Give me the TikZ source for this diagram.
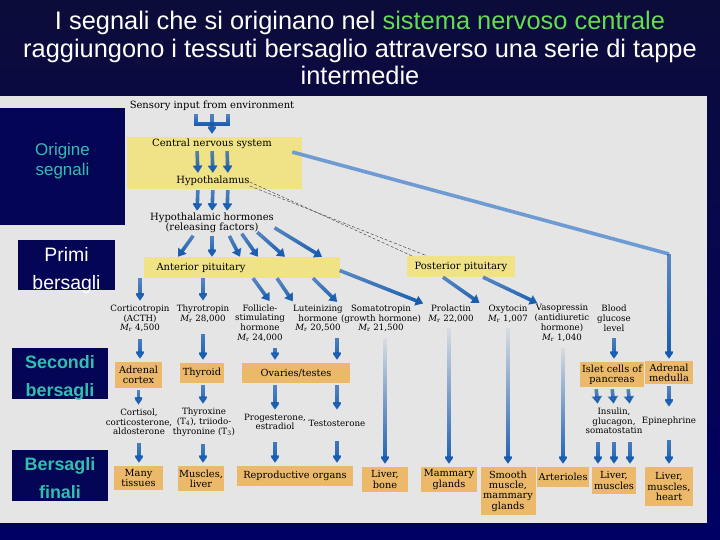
\documentclass[tikz,border=0pt]{standalone}
\usepackage{fontspec}
\setmainfont{DejaVu Serif}
\newfontfamily\sansfig{Liberation Sans}
\usetikzlibrary{arrows.meta,fadings}
\definecolor{navytop}{RGB}{12,12,58}
\definecolor{navybot}{RGB}{0,0,100}
\definecolor{navybox}{RGB}{5,5,85}
\definecolor{tealtxt}{RGB}{50,190,175}
\definecolor{greentxt}{RGB}{100,220,80}
\definecolor{panel}{RGB}{229,229,229}
\definecolor{bandyel}{RGB}{240,226,135}
\definecolor{organbox}{RGB}{235,185,105}
\definecolor{arrblue}{RGB}{20,90,175}
\definecolor{lineblue}{RGB}{110,155,210}
\tikzfading[name=halffade, top color=transparent!35, bottom color=transparent!0]
\tikzfading[name=longfade, top color=transparent!100, bottom color=transparent!0]

\begin{document}
\begin{tikzpicture}[x=1bp,y=-1bp]
		\tikzstyle{lbl}=[align=center,inner sep=0pt,font=\fontsize{8.7}{9.8}\selectfont]
		\tikzstyle{toplbl}=[align=center,inner sep=0pt,font=\fontsize{10}{10.3}\selectfont]
		\tikzstyle{band}=[fill=bandyel,inner sep=0pt,font=\fontsize{10}{10}\selectfont]
		\tikzstyle{organ}=[fill=organbox,align=center,inner sep=1.5bp,font=\fontsize{9.8}{10.3}\selectfont]
		\tikzstyle{sidebox}=[fill=navybox,text=tealtxt,align=center,inner sep=0pt]
		\tikzstyle{arr}=[arrblue,line width=3.6bp,-{Triangle[width=10bp,length=7.5bp]},path fading=halffade]
		\tikzstyle{farr}=[arr,path fading=longfade]
		\tikzstyle{pipe}=[arrblue,line width=3.6bp,path fading=halffade]
		\useasboundingbox (0,0) rectangle (720,540);
		\shade[top color=navytop,bottom color=navybot] (0,0) rectangle (720,540);
		\fill[panel] (0,96) rectangle (707,523);
		\node[align=center,text=white,font=\sansfig\fontsize{25.5}{28}\selectfont] (title) at (360,48)
			{I segnali che si originano nel \textcolor{greentxt}{sistema nervoso centrale}\\raggiungono i tessuti bersaglio attraverso una serie di tappe\\intermedie};
		\node[sidebox,minimum width=125bp,minimum height=117bp,text depth=14bp,font=\sansfig\fontsize{17}{20}\selectfont] (orig) at (62.5,166.5) {Origine\\segnali};
		\node[sidebox,text=white,minimum width=97bp,minimum height=50bp,text height=54bp,inner ysep=-4.5bp,font=\sansfig\fontsize{19.5}{29}\selectfont] (primi) at (66.5,265) {Primi\\bersagli};
		\node[sidebox,minimum width=96bp,minimum height=51bp,text height=49bp,inner ysep=-1.5bp,font=\sansfig\bfseries\fontsize{18}{28}\selectfont] (second) at (60,373.5) {Secondi\\bersagli};
		\node[sidebox,minimum width=96bp,minimum height=51bp,text height=46bp,font=\sansfig\bfseries\fontsize{18}{28}\selectfont] (final) at (60,475.5) {Bersagli\\finali};

		\node[band,minimum width=175bp,minimum height=52bp] (cnsband) at (214.5,163) {};
		\node[toplbl] (sens) at (212,106) {Sensory input from environment};
		\node[toplbl] (cns) at (212,144) {Central nervous system};
		\node[toplbl] (hyp) at (213,181) {Hypothalamus};
		\node[toplbl] (hh) at (212,223) {Hypothalamic hormones\\(releasing factors)};
		\node[band,minimum height=21bp,text width=170bp,inner xsep=13bp,align=left] (ap) at (241.5,267.5) {Anterior pituitary};
		\node[band,minimum height=21bp,minimum width=108bp] (pp) at (461,266.5) {Posterior pituitary};

		\node[lbl] (acth) at (140,318.5) {Corticotropin\\(ACTH)\\{\itshape M}\textsubscript{r} 4,500};
		\node[lbl] (tsh) at (203,313.5) {Thyrotropin\\{\itshape M}\textsubscript{r} 28,000};
		\node[lbl] (fsh) at (260,323) {Follicle-\\stimulating\\hormone\\{\itshape M}\textsubscript{r} 24,000};
		\node[lbl] (lh) at (318,318.5) {Luteinizing\\hormone\\{\itshape M}\textsubscript{r} 20,500};
		\node[lbl] (gh) at (381,318.5) {Somatotropin\\(growth hormone)\\{\itshape M}\textsubscript{r} 21,500};
		\node[lbl] (prl) at (451,313.5) {Prolactin\\{\itshape M}\textsubscript{r} 22,000};
		\node[lbl] (oxt) at (508,313.5) {Oxytocin\\{\itshape M}\textsubscript{r} 1,007};
		\node[lbl] (adh) at (562,323) {Vasopressin\\(antidiuretic\\hormone)\\{\itshape M}\textsubscript{r} 1,040};
		\node[lbl] (glu) at (614,318.5) {Blood\\glucose\\level};

		\node[organ,minimum width=47bp,minimum height=26bp] (adrcx) at (138.5,375) {Adrenal\\cortex};
		\node[organ,minimum width=44bp,minimum height=20bp] (thy) at (202,373) {Thyroid};
		\node[organ,minimum width=108bp,minimum height=20bp] (ovt) at (296,373) {Ovaries/testes};
		\node[organ,minimum width=64bp,minimum height=25bp] (islet) at (612,374.5) {Islet cells of\\pancreas};
		\node[organ,minimum width=48bp,minimum height=23bp] (admed) at (669,372.5) {Adrenal\\medulla};

		\node[lbl] (cort) at (139,422) {Cortisol,\\corticosterone,\\aldosterone};
		\node[lbl] (t4) at (204,422) {Thyroxine\\(T\textsubscript{4}), triiodo-\\thyronine (T\textsubscript{3})};
		\node[lbl] (prog) at (275,422) {Progesterone,\\estradiol};
		\node[lbl] (testo) at (337,423) {Testosterone};
		\node[lbl] (ins) at (614,421) {Insulin,\\glucagon,\\somatostatin};
		\node[lbl] (epi) at (669,421) {Epinephrine};

		\node[organ,minimum width=49bp,minimum height=24bp] (many) at (138.5,478) {Many\\tissues};
		\node[organ,minimum width=46bp,minimum height=25bp] (musliv) at (201,478.5) {Muscles,\\liver};
		\node[organ,minimum width=116bp,minimum height=20bp] (repro) at (295,476) {Reproductive organs};
		\node[organ,minimum width=46bp,minimum height=25bp] (livbone) at (385,479.5) {Liver,\\bone};
		\node[organ,minimum width=56bp,minimum height=25bp] (mamm) at (449,479.5) {Mammary\\glands};
		\node[organ,minimum width=55bp,minimum height=48bp] (smooth) at (508,491) {Smooth\\muscle,\\mammary\\glands};
		\node[organ,minimum width=52bp,minimum height=20bp] (artr) at (563,477) {Arterioles};
		\node[organ,minimum width=44bp,minimum height=27bp] (livmus) at (614,480.5) {Liver,\\muscles};
		\node[organ,minimum width=48bp,minimum height=39bp] (livmh) at (669,486.5) {Liver,\\muscles,\\heart};
		\coordinate (bend) at (669,254);

		\draw[pipe] ([xshift=-16bp,yshift=-3bp]sens.south) |- ([xshift=16bp,yshift=-13bp]sens.south) -- ([xshift=16bp,yshift=-3bp]sens.south);
		\draw[arr,shorten <=3bp,shorten >=5bp] (sens.south) -- (cns.north);
		\foreach \dx in {-15,0,15}{
			\draw[arr,shorten <=2bp,shorten >=3bp] ([xshift=\dx bp]cns.south) -- ([xshift=\dx bp]hyp.north);
			\draw[arr,shorten <=4bp,shorten >=2bp] ([xshift=\dx bp]hyp.south) -- ([xshift=\dx bp]hh.north);
		}
		\draw[arr,shorten <=3bp] ([xshift=-17bp]hh.south) -- ([xshift=-63.5bp]ap.north);
		\draw[arr,shorten <=3bp] (hh.south) -- ([xshift=-29.5bp]ap.north);
		\draw[arr,shorten <=3bp] ([xshift=16bp]hh.south) -- ([xshift=-1.5bp]ap.north);
		\draw[arr,shorten <=3bp] ([xshift=28bp,yshift=2bp]hh.south) -- ([xshift=16.5bp]ap.north);
		\draw[arr,shorten <=3bp] ([xshift=43bp,yshift=3bp]hh.south) -- ([xshift=43.5bp]ap.north);
		\draw[arr,shorten <=3bp] ([xshift=60bp,yshift=7bp]hh.south) -- ([xshift=80.5bp]ap.north);
		\draw[dash pattern=on 3bp off 2bp,gray!60!black,line width=0.5bp] ([yshift=-1bp]hyp.east) -- ([xshift=5bp]pp.north west);
		\draw[dash pattern=on 3bp off 2bp,gray!60!black,line width=0.5bp] ([yshift=-5bp]hyp.east) -- ([xshift=20bp]pp.north west);
		\draw[lineblue,line width=3.6bp] ([xshift=-10bp,yshift=11bp]cnsband.east) -- (bend);
		\draw[arr,shorten >=2bp] (bend) -- (admed.north);

		\draw[arr,shorten >=4bp] (acth.north |- ap.south) -- (acth.north);
		\draw[arr,shorten >=4bp] (tsh.north |- ap.south) -- (tsh.north);
		\draw[arr,shorten >=4bp] ([xshift=11.5bp]ap.south) -- ([xshift=12bp]fsh.north);
		\draw[arr,shorten >=4bp] ([xshift=35.5bp]ap.south) -- ([xshift=-23bp]lh.north);
		\draw[arr,shorten >=4bp] ([xshift=71.5bp]ap.south) -- ([xshift=-41bp]gh.north);
		\draw[arr,shorten >=3bp] ([yshift=-3bp]ap.east) -- ([xshift=-25bp]prl.north);
		\draw[arr,shorten >=3bp] ([xshift=-18bp]pp.south) -- ([xshift=-26bp]oxt.north);
		\draw[arr,shorten >=3bp] ([xshift=22bp]pp.south) -- ([xshift=-22bp]adh.north);

		\draw[arr,shorten <=7bp,shorten >=3bp] (acth.south) -- (acth.south |- adrcx.north);
		\draw[arr,shorten <=12bp,shorten >=3bp] (tsh.south) -- (tsh.south |- thy.north);
		\draw[arr,shorten <=6bp,shorten >=3bp] (prog.north |- fsh.south) -- (prog.north |- ovt.north);
		\draw[arr,shorten <=6bp,shorten >=3bp] (testo.north |- lh.south) -- (testo.north |- ovt.north);
		\draw[arr,shorten <=6bp,shorten >=3bp] (glu.south) -- (glu.south |- islet.north);

		\draw[arr,shorten <=2bp,shorten >=4bp] (adrcx.south) -- (adrcx.south |- cort.north);
		\draw[arr,shorten <=2bp,shorten >=4bp] (tsh.south |- thy.south) -- (tsh.south |- t4.north);
		\draw[arr,shorten <=2bp,shorten >=4bp] (prog.north |- ovt.south) -- (prog.north);
		\draw[arr,shorten <=2bp,shorten >=4bp] (testo.north |- ovt.south) -- ([yshift=6bp]testo.north);
		\foreach \dx in {-16,0,16}{
			\draw[arr,shorten <=2bp,shorten >=4bp] ([xshift=\dx bp]islet.south) -- ([xshift=\dx bp]ins.north);
			\draw[arr,shorten <=8bp,shorten >=3bp] ([xshift=\dx bp]ins.south) -- ([xshift=\dx bp]livmus.north);
		}
		\draw[arr,shorten <=2bp,shorten >=4bp] (admed.south) -- ([yshift=6bp]epi.north);

		\draw[arr,shorten <=8bp,shorten >=3bp] (cort.south) -- (cort.south |- many.north);
		\draw[arr,shorten <=8bp,shorten >=3bp] (tsh.south |- t4.south) -- (tsh.south |- musliv.north);
		\draw[arr,shorten <=12bp,shorten >=3bp] (prog.south) -- (prog.south |- repro.north);
		\draw[arr,shorten <=15bp,shorten >=3bp] (testo.south) -- (testo.south |- repro.north);
		\draw[arr,shorten <=15bp,shorten >=3bp] (epi.south) -- (epi.south |- livmh.north);
		\draw[farr,shorten <=6bp,shorten >=3bp] (livbone.north |- gh.south) -- (livbone.north);
		\draw[farr,shorten <=6bp,shorten >=3bp] (mamm.north |- prl.south) -- (mamm.north);
		\draw[farr,shorten <=6bp,shorten >=3bp] (smooth.north |- oxt.south) -- (smooth.north);
		\draw[farr,shorten <=6bp,shorten >=3bp] (artr.north |- adh.south) -- (artr.north);
\end{tikzpicture}
\end{document}
